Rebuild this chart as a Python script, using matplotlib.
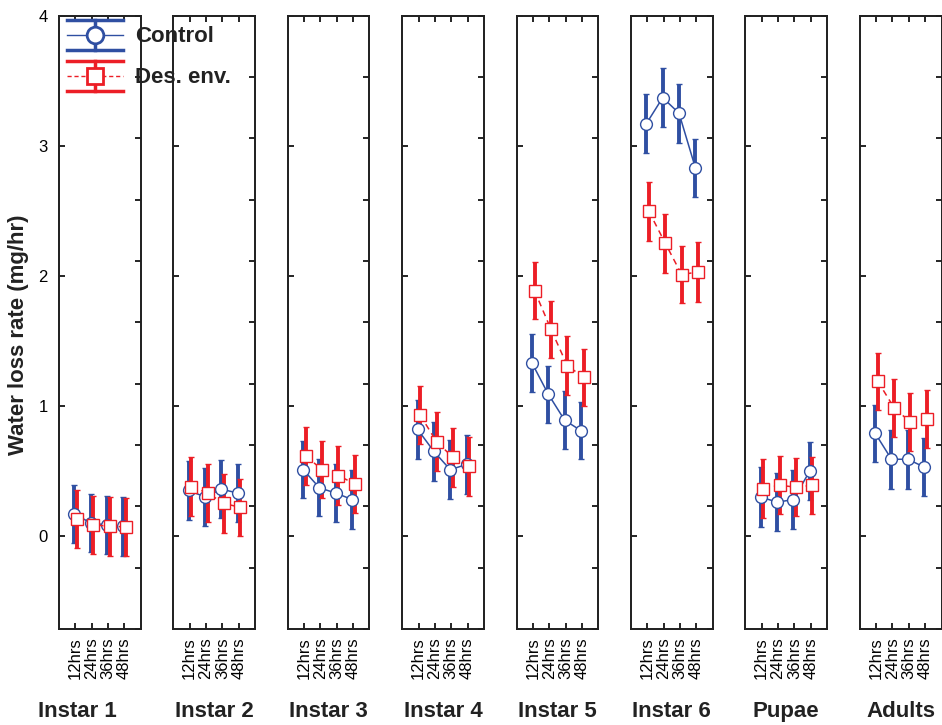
import numpy as np
import matplotlib
matplotlib.use('Agg')
import matplotlib.pyplot as plt
from matplotlib.lines import Line2D
from matplotlib.legend_handler import HandlerBase

plt.rcParams['font.family'] = ['Liberation Sans', 'DejaVu Sans']

stages = ['Instar 1', 'Instar 2', 'Instar 3', 'Instar 4',
          'Instar 5', 'Instar 6', 'Pupae', 'Adults']
times = ['12hrs', '24hrs', '36hrs', '48hrs']

# Control
ctrl_mean = [
    [0.17, 0.10, 0.085, 0.075],
    [0.35, 0.30, 0.36, 0.33],
    [0.51, 0.37, 0.33, 0.28],
    [0.82, 0.65, 0.51, 0.55],
    [1.33, 1.09, 0.89, 0.81],
    [3.17, 3.37, 3.25, 2.83],
    [0.30, 0.26, 0.28, 0.50],
    [0.79, 0.59, 0.59, 0.53],
]
ctrl_err = [
    [0.22, 0.225, 0.225, 0.225],
    [0.225, 0.225, 0.225, 0.223],
    [0.22, 0.22, 0.22, 0.225],
    [0.225, 0.225, 0.225, 0.225],
    [0.225, 0.22, 0.225, 0.22],
    [0.225, 0.225, 0.225, 0.22],
    [0.23, 0.225, 0.225, 0.225],
    [0.22, 0.225, 0.225, 0.225],
]
# Desiccating environment
des_mean = [
    [0.13, 0.085, 0.075, 0.07],
    [0.38, 0.33, 0.25, 0.22],
    [0.615, 0.51, 0.465, 0.40],
    [0.93, 0.725, 0.605, 0.535],
    [1.885, 1.59, 1.31, 1.22],
    [2.495, 2.25, 2.01, 2.03],
    [0.365, 0.39, 0.375, 0.39],
    [1.19, 0.985, 0.875, 0.90],
]
des_err = [
    [0.22, 0.225, 0.225, 0.223],
    [0.225, 0.223, 0.225, 0.22],
    [0.225, 0.22, 0.225, 0.22],
    [0.22, 0.225, 0.225, 0.225],
    [0.22, 0.22, 0.225, 0.22],
    [0.225, 0.225, 0.22, 0.23],
    [0.225, 0.223, 0.225, 0.22],
    [0.22, 0.225, 0.225, 0.22],
]

BLUE = '#2f4fa2'
RED = '#ec1e26'


class ErrHandler(HandlerBase):
    """MATLAB-like errorbar legend entry: wide caps, marker in the middle"""
    def __init__(self, color, ls, marker):
        HandlerBase.__init__(self)
        self.color, self.ls, self.marker = color, ls, marker

    def create_artists(self, legend, orig_handle, xdescent, ydescent,
                       width, height, fontsize, trans):
        x0, x1 = -xdescent, -xdescent + width
        y0, y1 = -ydescent, -ydescent + height
        xm, ym = (x0 + x1) / 2, (y0 + y1) / 2
        arts = [Line2D([x0, x1], [ym, ym], color=self.color, ls=self.ls, lw=1.0),
                Line2D([xm, xm], [y0, y1], color=self.color, lw=2.5),
                Line2D([x0, x1], [y0, y0], color=self.color, lw=2.5),
                Line2D([x0, x1], [y1, y1], color=self.color, lw=2.5),
                Line2D([xm], [ym], color=self.color, marker=self.marker, ms=12,
                       mfc='white', mew=2.0, ls='none')]
        for a in arts:
            a.set_transform(trans)
        return arts


W, H = 942, 725
fig = plt.figure(figsize=(W / 100, H / 100), dpi=100)

left0, step, width = 59 / W, 114.4 / W, 81.7 / W
bottom, height = 1 - 629 / H, (629 - 15.7) / H
x = np.arange(1, 5)

handles = []
for i, stage in enumerate(stages):
    ax = fig.add_axes([left0 + i * step, bottom, width, height])
    eb_c = ax.errorbar(x - 0.06, ctrl_mean[i], yerr=ctrl_err[i], color=BLUE,
                       lw=1.1, elinewidth=2.8, capsize=2.2, capthick=3.5,
                       marker='o', ms=8.5, mfc='white', mec=BLUE, mew=1.0)
    eb_d = ax.errorbar(x + 0.1, des_mean[i], yerr=des_err[i], color=RED,
                       lw=1.1, ls=(0, (4, 3)), elinewidth=2.8, capsize=2.2,
                       capthick=3.5, marker='s', ms=8.5, mfc='white', mec=RED,
                       mew=1.0)
    if i == 0:
        handles = [eb_c, eb_d]

    ax.set_xlim(0, 5)
    ax.set_ylim(-0.715, 4)
    ax.set_xticks(x)
    ax.set_xticklabels(times, rotation=90, fontsize=12)
    ax.set_yticks([0, 1, 2, 3, 4])
    ax.tick_params(axis='x', direction='in', top=True, length=4, width=1.2, pad=6)
    ax.tick_params(axis='y', direction='in', right=False, length=4, width=1.2,
                   pad=8, labelsize=12, labelleft=(i == 0))
    for s in ax.spines.values():
        s.set_linewidth(1.3)
        s.set_color('#222222')

    # right side ticks (10 divisions of the axis height)
    ax2 = ax.twinx()
    ax2.set_ylim(0, 1)
    ax2.set_yticks(np.linspace(0, 1, 11))
    ax2.tick_params(axis='y', direction='in', length=4, width=1.2, labelright=False)
    for s in ax2.spines.values():
        s.set_linewidth(1.3)
        s.set_color('#222222')

    lx = 0.22 if i == 0 else 0.5
    ax.text(lx, -0.134, stage, transform=ax.transAxes, ha='center', va='center',
            fontsize=16, fontweight='bold', color='#222222')

fig.text(19 / W, 1 - 335 / H, 'Water loss rate (mg/hr)', rotation=90,
         ha='center', va='center', fontsize=16, fontweight='bold', color='#222222')

leg = fig.legend(handles, ['Control', 'Des. env.'],
                 handler_map={handles[0]: ErrHandler(BLUE, '-', 'o'),
                              handles[1]: ErrHandler(RED, (0, (3, 2)), 's')},
                 loc='upper left', bbox_to_anchor=(67 / W, 1 - 20 / H),
                 bbox_transform=fig.transFigure, frameon=False, borderpad=0,
                 borderaxespad=0, handlelength=2.5, handleheight=1.7,
                 labelspacing=0.5, handletextpad=0.55,
                 prop={'size': 16, 'weight': 'bold'})
for t in leg.get_texts():
    t.set_color('#222222')

fig.savefig('out.png', dpi=100)
